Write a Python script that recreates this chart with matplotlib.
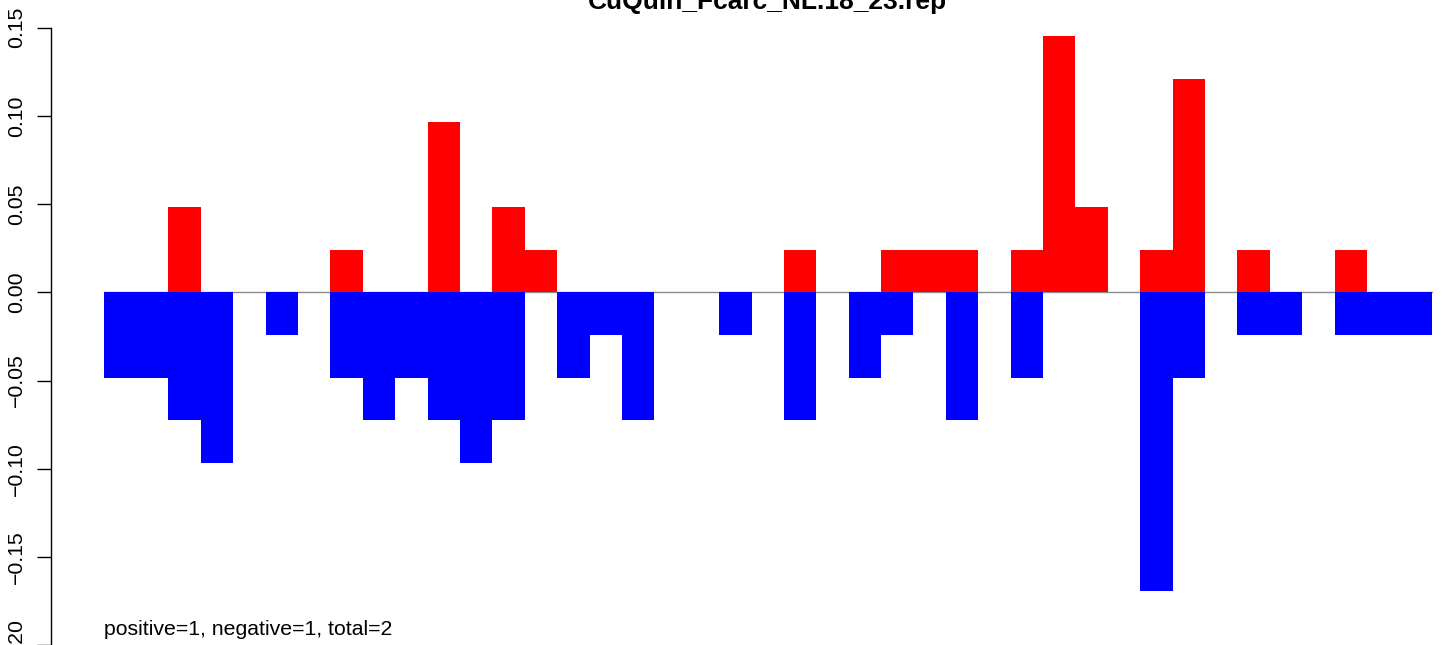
import numpy as np
import matplotlib
matplotlib.use("Agg")
import matplotlib.pyplot as plt

plt.rcParams['font.family'] = ['Liberation Sans', 'DejaVu Sans']

title = "CuQuin_Fcarc_NL.18_23.rep"
note = "positive=1, negative=1, total=2"

bins = np.arange(41)
pos_vals = [0, 0, 0.0484, 0, 0, 0, 0, 0.0242, 0, 0,
            0.0968, 0, 0.0484, 0.0242, 0, 0, 0, 0, 0, 0,
            0, 0.0242, 0, 0, 0.0242, 0.0242, 0.0242, 0, 0.0242, 0.1452,
            0.0484, 0, 0.0242, 0.121, 0, 0.0242, 0, 0, 0.0242, 0, 0]
neg_vals = [-0.0484, -0.0484, -0.0726, -0.0968, 0, -0.0242, 0, -0.0484, -0.0726, -0.0484,
            -0.0726, -0.0968, -0.0726, 0, -0.0484, -0.0242, -0.0726, 0, 0, -0.0242,
            0, -0.0726, 0, -0.0484, -0.0242, 0, -0.0726, 0, -0.0484, 0,
            0, 0, -0.1694, -0.0484, 0, -0.0242, -0.0242, 0, -0.0242, -0.0242, -0.0242]
yticks = [-0.20, -0.15, -0.10, -0.05, 0.00, 0.05, 0.10, 0.15]
ytick_labels = ["\u22120.20", "\u22120.15", "\u22120.10", "\u22120.05", "0.00", "0.05", "0.10", "0.15"]

W, H = 1444, 645
fig = plt.figure(figsize=(W / 100, H / 100), dpi=100)

# layout in pixels
x_axis_px = 50.6
first_edge_px = 103.7
bin_px = 32.39
zero_px = 292.3          # from top
unit_px = 1764.0         # pixels per 1.0 data unit
top_px, bot_px = -10, 680

ax = fig.add_axes([x_axis_px / W, (H - bot_px) / H, (W - x_axis_px) / W, (bot_px - top_px) / H])
x_left = -0.5 - (first_edge_px - x_axis_px) / bin_px
x_right = -0.5 + (W - first_edge_px) / bin_px
ax.set_xlim(x_left, x_right)
ax.set_ylim((zero_px - bot_px) / unit_px, (zero_px - top_px) / unit_px)

ax.plot([bins[0] - 0.5, bins[-1] + 0.5], [0, 0], color="#8c8c8c", lw=1.0, zorder=1)
ax.bar(bins, pos_vals, width=1.0, color="#FF0000", linewidth=0, zorder=2)
ax.bar(bins, neg_vals, width=1.0, color="#0000FF", linewidth=0, zorder=2)

for s in ["top", "right", "bottom"]:
    ax.spines[s].set_visible(False)
ax.spines["left"].set_bounds(-0.20, 0.15)
ax.spines["left"].set_linewidth(1.0)
ax.set_xticks([])
ax.set_yticks(yticks)
ax.set_yticklabels(ytick_labels, fontsize=15.3, rotation=90)
for lbl in ax.get_yticklabels():
    lbl.set_va("center")
ax.tick_params(axis="y", length=10.1, width=1.0, pad=7.5)
ax.patch.set_alpha(0)

ax.text(-0.5, (zero_px - 635) / unit_px, note, fontsize=15.3, ha="left", va="baseline")

fig.text(767.7 / W, (H - 9.5) / H, title, fontsize=19, fontweight="bold", ha="center", va="baseline")

fig.savefig("out.png", dpi=100)
